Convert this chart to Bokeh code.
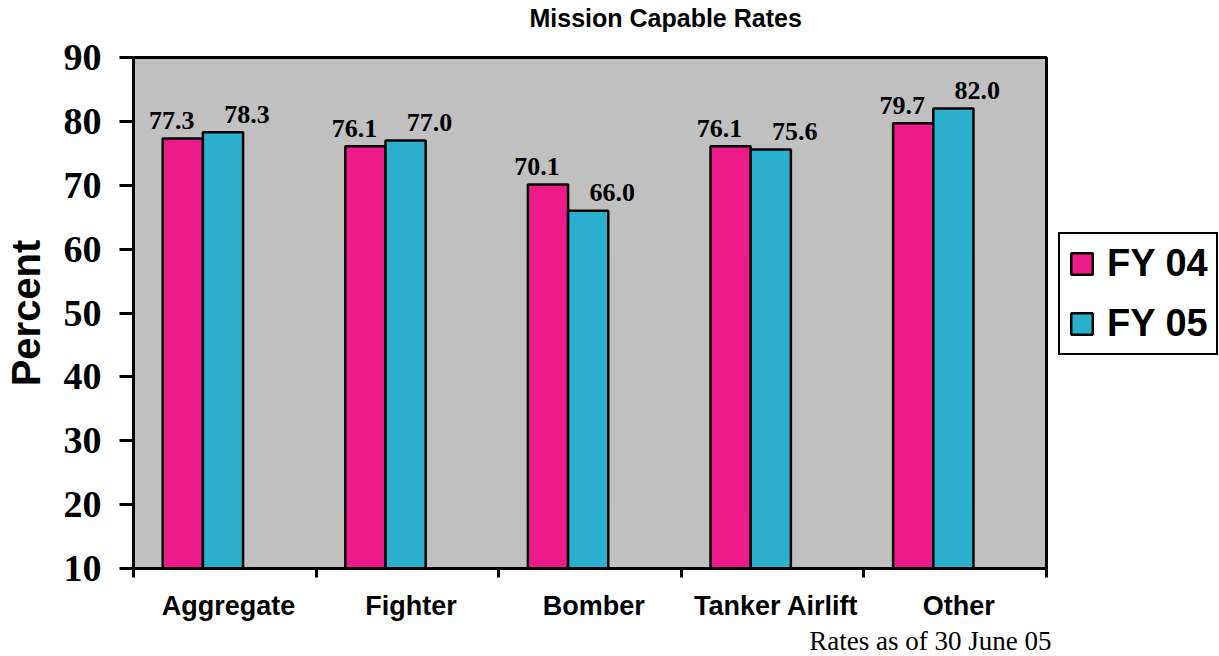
from bokeh.plotting import figure
from bokeh.models import Range1d, FixedTicker, Legend, LegendItem, Title
from bokeh.core.properties import value
from bokeh.embed import file_html
from bokeh.resources import INLINE
import numpy as np

categories = ["Aggregate", "Fighter", "Bomber", "Tanker Airlift", "Other"]
fy04 = [77.3, 76.1, 70.1, 76.1, 79.7]
fy05 = [78.3, 77.0, 66.0, 75.6, 82.0]
series_names = ["FY 04", "FY 05"]
y_ticks = [10, 20, 30, 40, 50, 60, 70, 80, 90]
title_text = "Mission Capable Rates"
y_label = "Percent"
footnote = "Rates as of 30 June 05"

PINK = "#ED1A89"
BLUE = "#2AAFCF"
GRAY = "#C0C0C0"
SANS = "Liberation Sans"
SERIF = "Liberation Serif"

n = len(categories)
idx = np.arange(n)
BAR_W = 0.22
x04 = idx + 0.27
x05 = idx + 0.49

p = figure(frame_width=913, frame_height=511,
           min_border_left=132, min_border_right=160,
           min_border_top=57, min_border_bottom=60,
           x_range=Range1d(0, n), y_range=Range1d(y_ticks[0], y_ticks[-1]),
           output_backend="svg", toolbar_location=None, title=None)

# spacer between frame and title (nearest to the frame)
spacer = Title(text="\u00a0", text_font_size="14px", standoff=8)
p.add_layout(spacer, "above")
main_title = Title(text=title_text, align="left", offset=396, standoff=0,
                   text_font=SANS, text_font_style="bold", text_font_size="25px",
                   text_color="black")
p.add_layout(main_title, "above")

p.background_fill_color = GRAY
p.border_fill_color = "white"
p.outline_line_color = "black"
p.outline_line_width = 3
p.xgrid.visible = False
p.ygrid.visible = False

r04 = p.vbar(x=x04, top=fy04, bottom=y_ticks[0], width=BAR_W,
             fill_color=PINK, line_color="black", line_width=2.5)
r05 = p.vbar(x=x05, top=fy05, bottom=y_ticks[0], width=BAR_W,
             fill_color=BLUE, line_color="black", line_width=2.5)

lbl_common = dict(text_align="center", text_baseline="alphabetic",
                  text_font=value(SERIF), text_font_style="bold",
                  text_font_size="26px", text_color="black")
p.text(x=x04, y=fy04, text=[f"{v:.1f}" for v in fy04], x_offset=-11, y_offset=-18, **lbl_common)
p.text(x=x05, y=fy05, text=[f"{v:.1f}" for v in fy05], x_offset=24, y_offset=-18, **lbl_common)

# y axis
ya = p.yaxis[0]
ya.ticker = FixedTicker(ticks=y_ticks, minor_ticks=[])
ya.axis_line_width = 3
ya.axis_line_color = "black"
ya.major_tick_out = 14
ya.major_tick_in = 0
ya.major_tick_line_width = 3
ya.major_tick_line_color = "black"
ya.minor_tick_line_color = None
ya.major_label_text_font = SERIF
ya.major_label_text_font_style = "bold"
ya.major_label_text_font_size = "38px"
ya.major_label_text_color = "black"
ya.major_label_standoff = 18
ya.axis_label = y_label
ya.axis_label_text_font = SANS
ya.axis_label_text_font_style = "bold"
ya.axis_label_text_font_size = "40px"
ya.axis_label_text_color = "black"
ya.axis_label_standoff = 13

# x axis
xa = p.xaxis[0]
centers = [float(i) + 0.52 for i in idx]
xa.ticker = FixedTicker(ticks=centers, minor_ticks=[float(i) for i in range(n + 1)])
xa.major_label_overrides = {c: name for c, name in zip(centers, categories)}
xa.axis_line_width = 3
xa.axis_line_color = "black"
xa.major_tick_out = 0
xa.major_tick_in = 0
xa.major_tick_line_color = None
xa.minor_tick_out = 9
xa.minor_tick_in = 0
xa.minor_tick_line_width = 3
xa.minor_tick_line_color = "black"
xa.major_label_text_font = SANS
xa.major_label_text_font_style = "bold"
xa.major_label_text_font_size = "27px"
xa.major_label_text_color = "black"
xa.major_label_standoff = 13

legend = Legend(items=[LegendItem(label=series_names[0], renderers=[r04]),
                       LegendItem(label=series_names[1], renderers=[r05])],
                location=(12, 213))
legend.glyph_width = 27
legend.glyph_height = 27
legend.label_standoff = 12
legend.padding = 8
legend.spacing = 17
legend.margin = 0
legend.border_line_color = "black"
legend.border_line_alpha = 1
legend.border_line_width = 2.5
legend.background_fill_color = "white"
legend.background_fill_alpha = 1
legend.label_text_font = SANS
legend.label_text_font_style = "bold"
legend.label_text_font_size = "38px"
legend.label_text_color = "black"
p.add_layout(legend, "right")

foot = Title(text=footnote, align="right", offset=-5, standoff=0,
             text_font=SERIF, text_font_style="normal", text_font_size="27px",
             text_color="black")
p.add_layout(foot, "below")

open("out.html", "w").write(file_html(p, INLINE))
